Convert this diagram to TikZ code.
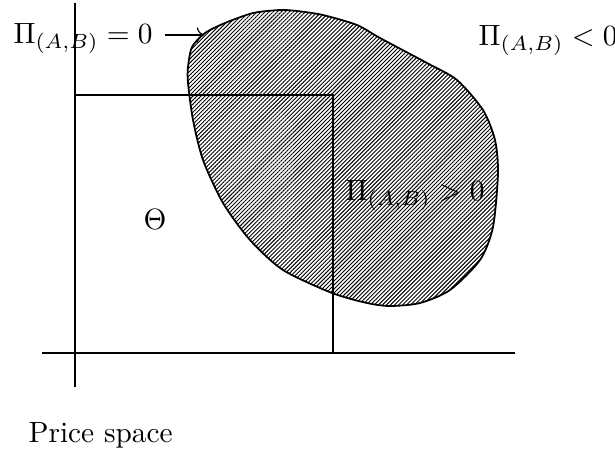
\documentclass[tikz,border=0pt]{standalone}
\usepackage{amsmath,amssymb}
\usetikzlibrary{arrows.meta,patterns.meta}

\begin{document}
\begin{tikzpicture}[x=0.341pt, y=-0.341pt,
  lbl/.style={inner sep=0pt, anchor=base west},
  region/.style={draw, semithick,
    pattern={Lines[angle=45, distance=0.97pt, line width=0.32pt]}},
  >={To}]
\useasboundingbox (0,0) rectangle (615,450);
% profit region
\draw[region] plot[smooth cycle, tension=0.45] coordinates {
  (192,47) (205,33) (225,23) (253,13) (280,10) (297,11) (323,15)
  (357,25) (380,38) (427,63) (457,80) (483,110) (495,140) (498,173)
  (493,227) (480,260) (450,290) (420,303) (390,306) (367,303)
  (332,293) (283,270) (250,240) (223,203) (203,160) (193,120)
  (188,83) (188,67)};
% axes
\coordinate (ytop) at (75,3);
\coordinate (ybot) at (75,387);
\coordinate (xleft) at (42,353);
\coordinate (xright) at (515,353);
\draw (ytop) -- (ybot);
\draw (xleft) -- (xright);
% box Theta
\draw (75,95) rectangle (333,353);
\node[lbl] (theta) at (143,229) {$\Theta$};
% labels
\node[lbl] (pzero) at (13,43) {$\Pi_{(A,B)} = 0$};
\node[lbl] (pneg) at (478,45) {$\Pi_{(A,B)} < 0$};
\node[lbl] (ppos) at (345,200) {$\Pi_{(A,B)} > 0$};
\node[lbl] (price) at (28,442) {Price space};
\coordinate (bnd) at (204,35);
\draw[->, shorten <=4pt] (pzero.east |- bnd) -- (bnd);
\end{tikzpicture}
\end{document}
